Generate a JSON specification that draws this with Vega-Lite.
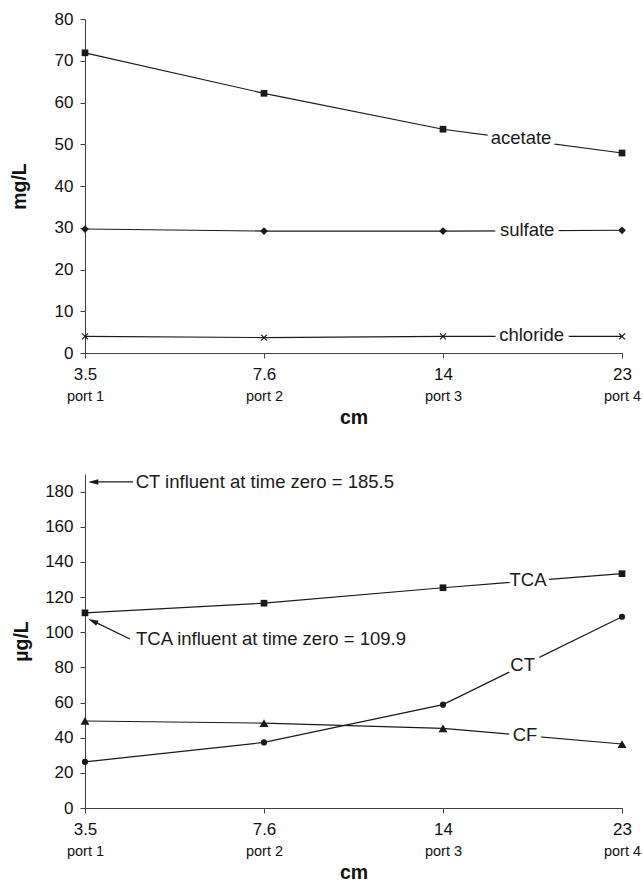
{
  "$schema": "https://vega.github.io/schema/vega-lite/v6.json",
  "padding": {"left": 9, "top": 10, "right": 1, "bottom": 0},
  "spacing": 45,
  "resolve": {"scale": {"shape": "independent", "size": "independent"}},
  "config": {
    "font": "Liberation Sans",
    "view": {"stroke": null},
    "axis": {
      "grid": false,
      "domainColor": "#404040",
      "tickColor": "#404040",
      "labelColor": "#111111",
      "titleColor": "#111111",
      "tickSize": 5,
      "labelFontSize": 17,
      "labelOverlap": false,
      "titleFontSize": 19.5,
      "titleFontWeight": "bold"
    }
  },
  "datasets": {
    "chem": [
      {"series": "acetate", "port": 1, "value": 71.9},
      {"series": "acetate", "port": 2, "value": 62.2},
      {"series": "acetate", "port": 3, "value": 53.6},
      {"series": "acetate", "port": 4, "value": 47.9},
      {"series": "sulfate", "port": 1, "value": 29.7},
      {"series": "sulfate", "port": 2, "value": 29.2},
      {"series": "sulfate", "port": 3, "value": 29.2},
      {"series": "sulfate", "port": 4, "value": 29.4},
      {"series": "chloride", "port": 1, "value": 4.0},
      {"series": "chloride", "port": 2, "value": 3.7},
      {"series": "chloride", "port": 3, "value": 4.0},
      {"series": "chloride", "port": 4, "value": 4.0}
    ],
    "chemLabels": [
      {"label": "acetate", "port": 3.436, "value": 51.4},
      {"label": "sulfate", "port": 3.47, "value": 29.4},
      {"label": "chloride", "port": 3.495, "value": 4.2}
    ],
    "voc": [
      {"series": "TCA", "port": 1, "value": 111.0},
      {"series": "TCA", "port": 2, "value": 116.5},
      {"series": "TCA", "port": 3, "value": 125.3},
      {"series": "TCA", "port": 4, "value": 133.3},
      {"series": "CT", "port": 1, "value": 26.2},
      {"series": "CT", "port": 2, "value": 37.3},
      {"series": "CT", "port": 3, "value": 58.8},
      {"series": "CT", "port": 4, "value": 108.8},
      {"series": "CF", "port": 1, "value": 49.5},
      {"series": "CF", "port": 2, "value": 48.3},
      {"series": "CF", "port": 3, "value": 45.3},
      {"series": "CF", "port": 4, "value": 36.4}
    ],
    "vocLabels": [
      {"label": "TCA", "port": 3.475, "value": 129.5},
      {"label": "CT", "port": 3.445, "value": 81.3},
      {"label": "CF", "port": 3.458, "value": 41.5}
    ]
  },
  "vconcat": [
    {
      "width": 537,
      "height": 334,
      "resolve": {"axis": {"x": "independent"}},
      "layer": [
        {
          "data": {"name": "chem"},
          "mark": {"type": "line", "color": "#1a1a1a", "strokeWidth": 1.2},
          "encoding": {
            "x": {"field": "port", "type": "quantitative",
              "scale": {"domain": [1, 4], "nice": false, "zero": false},
              "axis": {"values": [1, 2, 3, 4], "labelExpr": "datum.value == 1 ? '3.5' : datum.value == 2 ? '7.6' : datum.value == 3 ? '14' : '23'", "title": null, "labelPadding": 8, "labelFlush": false, "orient": "bottom"}},
            "y": {"field": "value", "type": "quantitative",
              "scale": {"domain": [0, 80], "nice": false},
              "axis": {"values": [0, 10, 20, 30, 40, 50, 60, 70, 80], "title": "mg/L", "labelPadding": 7, "titlePadding": 25}},
            "detail": {"field": "series"}
          }
        },
        {
          "data": {"name": "chem"},
          "transform": [{"filter": "datum.series !== 'chloride'"}],
          "mark": {"type": "point", "filled": true, "opacity": 1, "color": "#1a1a1a"},
          "encoding": {
            "x": {"field": "port", "type": "quantitative",
              "axis": {"values": [1, 2, 3, 4], "labelExpr": "'port ' + datum.value", "domain": false, "ticks": false, "tickSize": 0, "labelPadding": 36, "labelFontSize": 14.5, "labelFlush": false, "title": "cm", "titlePadding": 6, "orient": "bottom"}},
            "y": {"field": "value", "type": "quantitative"},
            "shape": {"field": "series", "type": "nominal", "scale": {"domain": ["acetate", "sulfate"], "range": ["square", "diamond"]}, "legend": null},
            "size": {"field": "series", "type": "nominal", "scale": {"domain": ["acetate", "sulfate"], "range": [45, 60]}, "legend": null}
          }
        },
        {
          "data": {"name": "chem"},
          "transform": [{"filter": "datum.series === 'chloride'"}],
          "mark": {"type": "point", "shape": "M-1,-1L1,1M-1,1L1,-1", "filled": false, "strokeWidth": 1.2, "color": "#1a1a1a", "size": 36, "opacity": 1},
          "encoding": {
            "x": {"field": "port", "type": "quantitative", "axis": null},
            "y": {"field": "value", "type": "quantitative"}
          }
        },
        {
          "data": {"name": "chemLabels"},
          "mark": {"type": "text", "fontSize": 18.5, "fill": "white", "stroke": "white", "strokeWidth": 9, "baseline": "middle"},
          "encoding": {
            "x": {"field": "port", "type": "quantitative", "axis": null},
            "y": {"field": "value", "type": "quantitative"},
            "text": {"field": "label"}
          }
        },
        {
          "data": {"name": "chemLabels"},
          "mark": {"type": "text", "fontSize": 18.5, "color": "#1a1a1a", "baseline": "middle"},
          "encoding": {
            "x": {"field": "port", "type": "quantitative", "axis": null},
            "y": {"field": "value", "type": "quantitative"},
            "text": {"field": "label"}
          }
        }
      ]
    },
    {
      "width": 537,
      "height": 334,
      "resolve": {"axis": {"x": "independent"}},
      "layer": [
        {
          "data": {"name": "voc"},
          "mark": {"type": "line", "color": "#1a1a1a", "strokeWidth": 1.2},
          "encoding": {
            "x": {"field": "port", "type": "quantitative",
              "scale": {"domain": [1, 4], "nice": false, "zero": false},
              "axis": {"values": [1, 2, 3, 4], "labelExpr": "datum.value == 1 ? '3.5' : datum.value == 2 ? '7.6' : datum.value == 3 ? '14' : '23'", "title": null, "labelPadding": 8, "labelFlush": false, "orient": "bottom"}},
            "y": {"field": "value", "type": "quantitative",
              "scale": {"domain": [0, 190], "nice": false},
              "axis": {"values": [0, 20, 40, 60, 80, 100, 120, 140, 160, 180], "title": "µg/L", "labelPadding": 7, "titlePadding": 13}},
            "detail": {"field": "series"}
          }
        },
        {
          "data": {"name": "voc"},
          "transform": [{"filter": "datum.series !== 'CF'"}],
          "mark": {"type": "point", "filled": true, "opacity": 1, "color": "#1a1a1a"},
          "encoding": {
            "x": {"field": "port", "type": "quantitative",
              "axis": {"values": [1, 2, 3, 4], "labelExpr": "'port ' + datum.value", "domain": false, "ticks": false, "tickSize": 0, "labelPadding": 36, "labelFontSize": 14.5, "labelFlush": false, "title": "cm", "titlePadding": 6, "orient": "bottom"}},
            "y": {"field": "value", "type": "quantitative",
              "axis": {"values": [0, 20, 40, 60, 80, 100, 120, 140, 160, 180], "title": "µg/L", "labelPadding": 7, "titlePadding": 13}},
            "shape": {"field": "series", "type": "nominal", "scale": {"domain": ["TCA", "CT"], "range": ["square", "circle"]}, "legend": null},
            "size": {"field": "series", "type": "nominal", "scale": {"domain": ["TCA", "CT"], "range": [45, 38]}, "legend": null}
          }
        },
        {
          "data": {"name": "voc"},
          "transform": [{"filter": "datum.series === 'CF'"}],
          "mark": {"type": "point", "shape": "triangle-up", "filled": true, "opacity": 1, "color": "#1a1a1a", "size": 80},
          "encoding": {
            "x": {"field": "port", "type": "quantitative", "axis": null},
            "y": {"field": "value", "type": "quantitative",
              "axis": {"values": [0, 20, 40, 60, 80, 100, 120, 140, 160, 180], "title": "µg/L", "labelPadding": 7, "titlePadding": 13}}
          }
        },
        {
          "data": {"values": [{}]},
          "mark": {"type": "rule", "color": "#1a1a1a", "strokeWidth": 1.2},
          "encoding": {
            "x": {"datum": 1.03, "type": "quantitative", "axis": null},
            "x2": {"datum": 1.268},
            "y": {"datum": 185.5, "type": "quantitative",
              "axis": {"values": [0, 20, 40, 60, 80, 100, 120, 140, 160, 180], "title": "µg/L", "labelPadding": 7, "titlePadding": 13}}
          }
        },
        {
          "data": {"values": [{}]},
          "mark": {"type": "point", "shape": "M-1,0L1,-0.55L1,0.55Z", "filled": true, "opacity": 1, "color": "#1a1a1a", "size": 100},
          "encoding": {
            "x": {"datum": 1.046, "type": "quantitative", "axis": null},
            "y": {"datum": 185.5, "type": "quantitative",
              "axis": {"values": [0, 20, 40, 60, 80, 100, 120, 140, 160, 180], "title": "µg/L", "labelPadding": 7, "titlePadding": 13}}
          }
        },
        {
          "data": {"values": [{}]},
          "mark": {"type": "text", "fontSize": 18.5, "color": "#1a1a1a", "align": "left", "baseline": "middle", "text": "CT influent at time zero = 185.5"},
          "encoding": {
            "x": {"datum": 1.283, "type": "quantitative", "axis": null},
            "y": {"datum": 185.5, "type": "quantitative",
              "axis": {"values": [0, 20, 40, 60, 80, 100, 120, 140, 160, 180], "title": "µg/L", "labelPadding": 7, "titlePadding": 13}}
          }
        },
        {
          "data": {"values": [{}]},
          "mark": {"type": "rule", "color": "#1a1a1a", "strokeWidth": 1.2},
          "encoding": {
            "x": {"datum": 1.04, "type": "quantitative", "axis": null},
            "x2": {"datum": 1.251},
            "y": {"datum": 106.6, "type": "quantitative",
              "axis": {"values": [0, 20, 40, 60, 80, 100, 120, 140, 160, 180], "title": "µg/L", "labelPadding": 7, "titlePadding": 13}},
            "y2": {"datum": 96.1}
          }
        },
        {
          "data": {"values": [{}]},
          "mark": {"type": "point", "shape": "M-1,0L1,-0.55L1,0.55Z", "filled": true, "opacity": 1, "color": "#1a1a1a", "size": 100, "angle": 25.6},
          "encoding": {
            "x": {"datum": 1.044, "type": "quantitative", "axis": null},
            "y": {"datum": 106.3, "type": "quantitative",
              "axis": {"values": [0, 20, 40, 60, 80, 100, 120, 140, 160, 180], "title": "µg/L", "labelPadding": 7, "titlePadding": 13}}
          }
        },
        {
          "data": {"values": [{}]},
          "mark": {"type": "text", "fontSize": 18.5, "color": "#1a1a1a", "align": "left", "baseline": "middle", "text": "TCA influent at time zero = 109.9"},
          "encoding": {
            "x": {"datum": 1.285, "type": "quantitative", "axis": null},
            "y": {"datum": 96.1, "type": "quantitative",
              "axis": {"values": [0, 20, 40, 60, 80, 100, 120, 140, 160, 180], "title": "µg/L", "labelPadding": 7, "titlePadding": 13}}
          }
        },
        {
          "data": {"name": "vocLabels"},
          "mark": {"type": "text", "fontSize": 18.5, "fill": "white", "stroke": "white", "strokeWidth": 9, "baseline": "middle"},
          "encoding": {
            "x": {"field": "port", "type": "quantitative", "axis": null},
            "y": {"field": "value", "type": "quantitative",
              "axis": {"values": [0, 20, 40, 60, 80, 100, 120, 140, 160, 180], "title": "µg/L", "labelPadding": 7, "titlePadding": 13}},
            "text": {"field": "label"}
          }
        },
        {
          "data": {"name": "vocLabels"},
          "mark": {"type": "text", "fontSize": 18.5, "color": "#1a1a1a", "baseline": "middle"},
          "encoding": {
            "x": {"field": "port", "type": "quantitative", "axis": null},
            "y": {"field": "value", "type": "quantitative",
              "axis": {"values": [0, 20, 40, 60, 80, 100, 120, 140, 160, 180], "title": "µg/L", "labelPadding": 7, "titlePadding": 13}},
            "text": {"field": "label"}
          }
        }
      ]
    }
  ]
}
